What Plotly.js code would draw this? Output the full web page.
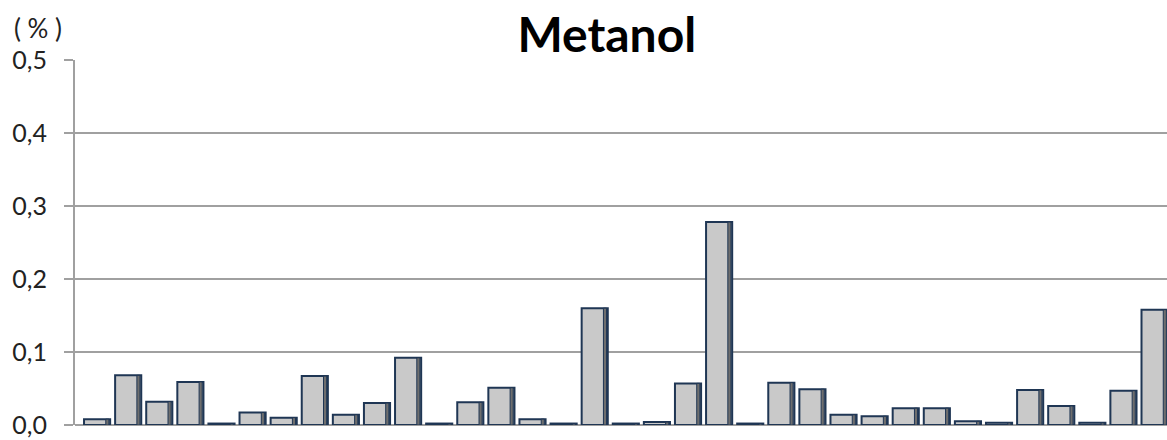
<!DOCTYPE html>
<html>
<head>
<meta charset="utf-8">
<script src="https://cdn.plot.ly/plotly-3.0.1.min.js"></script>
<style>html,body{margin:0;padding:0;background:#fff;}#chart{width:1167px;height:440px;}</style>
</head>
<body>
<div id="chart"></div>
<script>
const categories = Array.from({length: 35}, (_, i) => 'S' + (i + 1));
const values = [0.008, 0.068, 0.032, 0.059, 0.002, 0.017, 0.010, 0.067, 0.014, 0.030,
                0.092, 0.002, 0.031, 0.051, 0.008, 0.002, 0.160, 0.002, 0.004, 0.057,
                0.278, 0.002, 0.058, 0.049, 0.014, 0.012, 0.023, 0.023, 0.005, 0.003,
                0.048, 0.026, 0.003, 0.047, 0.158];
const yTicks = [0, 0.1, 0.2, 0.3, 0.4, 0.5];
const titleText = 'Metanol';
const unitText = '( % )';

const xIdx = categories.map((_, i) => i);

const mainBars = {
  type: 'bar', x: xIdx, y: values,
  width: 0.84, offset: -0.42,
  marker: {color: '#c9c9c9', line: {color: '#1f3654', width: 2}},
  hoverinfo: 'y'
};
const shadowBars = {
  type: 'bar', x: xIdx, y: values,
  width: 0.1, offset: 0.28,
  marker: {color: '#6e6e6e', line: {color: '#1f3654', width: 1}},
  hoverinfo: 'skip'
};

const layout = {
  width: 1167, height: 440,
  margin: {l: 75, r: 0, t: 60, b: 15},
  paper_bgcolor: '#ffffff', plot_bgcolor: '#ffffff',
  separators: ',.',
  showlegend: false,
  barmode: 'overlay',
  title: {text: '<b>' + titleText + '</b>', x: 0.487, xanchor: 'center', xref: 'paper',
          y: 0.92, yanchor: 'middle',
          font: {family: 'Lato, Open Sans, sans-serif', size: 48, color: '#000'}},
  xaxis: {range: [-0.71, 34.4], showticklabels: false, showgrid: false, zeroline: false,
          showline: false, ticks: ''},
  yaxis: {range: [0, 0.5], tickvals: yTicks, tickformat: '.1f',
          showgrid: true, gridcolor: '#a0a0a0', gridwidth: 2,
          zeroline: true, zerolinecolor: '#a0a0a0', zerolinewidth: 2,
          showline: true, linecolor: '#a0a0a0', linewidth: 2,
          ticks: 'outside', ticklen: 9, tickwidth: 2, tickcolor: '#a0a0a0',
          ticklabelstandoff: 12,
          tickfont: {family: 'Lato, Open Sans, sans-serif', size: 25, color: '#222'}},
  annotations: [{text: unitText, xref: 'paper', yref: 'paper', x: -0.058, y: 1.0,
                 xanchor: 'left', yanchor: 'bottom', yshift: 14, showarrow: false,
                 font: {family: 'Lato, Open Sans, sans-serif', size: 26, color: '#222'}}]
};

Plotly.newPlot('chart', [mainBars, shadowBars], layout, {displayModeBar: false, staticPlot: true});
</script>
</body>
</html>
